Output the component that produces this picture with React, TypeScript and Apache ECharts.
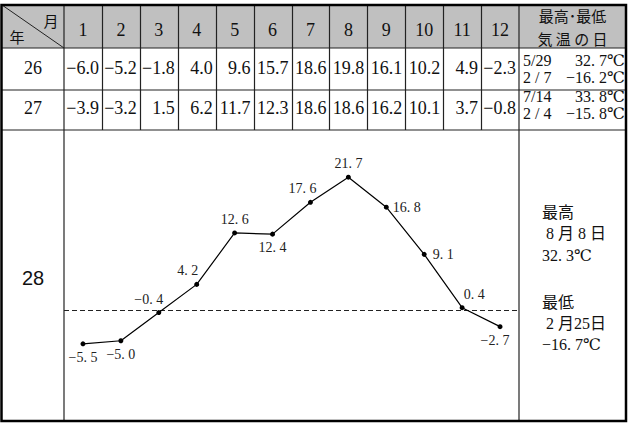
import React, { useEffect, useRef } from "react";
import * as echarts from "echarts";

const months = ["1", "2", "3", "4", "5", "6", "7", "8", "9", "10", "11", "12"];
const years = ["26", "27", "28"];
const temps26 = [-6.0, -5.2, -1.8, 4.0, 9.6, 15.7, 18.6, 19.8, 16.1, 10.2, 4.9, -2.3];
const temps27 = [-3.9, -3.2, 1.5, 6.2, 11.7, 12.3, 18.6, 18.6, 16.2, 10.1, 3.7, -0.8];
const temps28 = [-5.5, -5.0, -0.4, 4.2, 12.6, 12.4, 17.6, 21.7, 16.8, 9.1, 0.4, -2.7];
const headerLast = ["最高･最低", "気 温 の 日"];
const extremes26 = [["5/29", "32. 7℃"], ["2 / 7", "−16. 2℃"]];
const extremes27 = [["7/14", "33. 8℃"], ["2 / 4", "−15. 8℃"]];
const record28 = ["最高", " 8 月 8 日", "32. 3℃", "最低", " 2 月25日", "−16. 7℃"];

const SERIF = '"Liberation Serif", "DejaVu Serif", "Noto Sans CJK JP", serif';
const CJK = '"Noto Sans CJK JP", "Liberation Serif", serif';

export default function App() {
  const ref = useRef<HTMLDivElement>(null);
  useEffect(() => {
    if (!ref.current) return;
    const chart = echarts.init(ref.current, null, { renderer: "svg" });

    const X0 = 2, X1 = 64, XL = 519, XR = 626;
    const Y0 = 5, Y1 = 48, Y2 = 90, Y3 = 130, YB = 421;
    const colW = (XL - X1) / 12;
    const lineCol = "#222";

    const g: any[] = [];
    g.push({ type: "rect", shape: { x: X0, y: Y0, width: XR - X0, height: Y1 - Y0 }, style: { fill: "#c0c0c0" }, z: 0 });
    [Y1, Y2, Y3].forEach((y) =>
      g.push({ type: "line", shape: { x1: X0, y1: y, x2: XR, y2: y }, style: { stroke: lineCol, lineWidth: 1.2 }, z: 1 })
    );
    g.push({ type: "line", shape: { x1: X1, y1: Y0, x2: X1, y2: YB }, style: { stroke: lineCol, lineWidth: 1.2 }, z: 1 });
    g.push({ type: "line", shape: { x1: XL, y1: Y0, x2: XL, y2: YB }, style: { stroke: lineCol, lineWidth: 1.2 }, z: 1 });
    for (let i = 1; i < 12; i++) {
      const x = Math.round(X1 + colW * i) + 0.5;
      g.push({ type: "line", shape: { x1: x, y1: Y0, x2: x, y2: Y3 }, style: { stroke: lineCol, lineWidth: 1.2 }, z: 1 });
    }
    g.push({ type: "line", shape: { x1: X0, y1: Y0, x2: X1, y2: Y1 }, style: { stroke: lineCol, lineWidth: 1 }, z: 1 });
    g.push({ type: "rect", shape: { x: 1.5, y: Y0, width: XR - 1.5, height: YB - Y0 }, style: { fill: "none", stroke: "#000", lineWidth: 2.5 }, z: 2 });

    const txt = (text: string, x: number, y: number, size: number, align = "center", font = SERIF, extra: any = {}) =>
      g.push({
        type: "text",
        x,
        y,
        z: 3,
        style: { text, fontSize: size, fontFamily: font, fill: "#111", align, verticalAlign: "middle", lineHeight: size, ...extra },
      });

    txt("月", 51, 20, 15, "center", CJK);
    txt("年", 17, 36, 15, "center", CJK);
    months.forEach((m, i) => txt(m, X1 + colW * (i + 0.5), 30, 18));
    txt(headerLast[0], (XL + XR) / 2, 15, 15, "center", CJK);
    txt(headerLast[1], (XL + XR) / 2, 38, 15, "center", CJK);

    const fmt = (v: number) => (v < 0 ? "−" + Math.abs(v).toFixed(1) : v.toFixed(1));
    txt(years[0], (X0 + X1) / 2, 68, 18);
    txt(years[1], (X0 + X1) / 2, 108, 18);
    txt(years[2], (X0 + X1) / 2, 278, 20, "center", '"Liberation Sans", Arial, sans-serif');
    temps26.forEach((v, i) => txt(fmt(v), X1 + colW * (i + 1) - 3, 68, 18, "right"));
    temps27.forEach((v, i) => txt(fmt(v), X1 + colW * (i + 1) - 3, 108, 18, "right"));
    [extremes26, extremes27].forEach((ex, r) => {
      const base = r === 0 ? 60 : 96;
      ex.forEach((pair, k) => {
        txt(pair[0], 523, base + k * 17, 16, "left");
        txt(pair[1], 625, base + k * 17, 16, "right");
      });
    });
    const recY = [212, 233, 255, 302, 323, 344];
    record28.forEach((s, k) => txt(s, 542, recY[k], 16, "left"));

    const placements: any[] = [
      { position: "bottom", offset: [0, 0] },
      { position: "bottom", offset: [0, 0] },
      { position: "top", offset: [-10, 0] },
      { position: "top", offset: [-9, 0] },
      { position: "top", offset: [0, 0] },
      { position: "bottom", offset: [0, 0] },
      { position: "top", offset: [-8, 0] },
      { position: "top", offset: [0, 0] },
      { position: "right", offset: [0, 0] },
      { position: "right", offset: [2, 0] },
      { position: "top", offset: [12, 0] },
      { position: "bottom", offset: [-5, 0] },
    ];
    const lab = (v: number) => (v < 0 ? "−" : "") + Math.abs(v).toFixed(1).replace(".", ". ");

    chart.setOption({
      animation: false,
      backgroundColor: "#fff",
      grid: { left: X1, top: Y3, width: XL - X1, height: YB - Y3 },
      xAxis: { type: "category", data: months, show: false, boundaryGap: true },
      yAxis: { type: "value", min: -18.1, max: 29.4, show: false, splitLine: { show: false } },
      graphic: g,
      series: [
        {
          type: "line",
          data: temps28.map((v, i) => ({ value: v, label: placements[i] })),
          symbol: "circle",
          symbolSize: 5,
          lineStyle: { color: "#000", width: 1.2 },
          itemStyle: { color: "#000" },
          label: {
            show: true,
            fontSize: 14,
            fontFamily: SERIF,
            color: "#222",
            distance: 4,
            formatter: (p: any) => lab(p.value),
          },
          markLine: {
            silent: true,
            symbol: "none",
            label: { show: false },
            lineStyle: { color: "#222", type: [5, 3], width: 1 },
            data: [{ yAxis: 0 }],
          },
          z: 5,
        },
      ],
    });
    return () => chart.dispose();
  }, []);
  return (
    <div
      ref={ref}
      style={{ position: "absolute", left: 0, top: 0, width: 629, height: 423, background: "#fff" }}
    />
  );
}
